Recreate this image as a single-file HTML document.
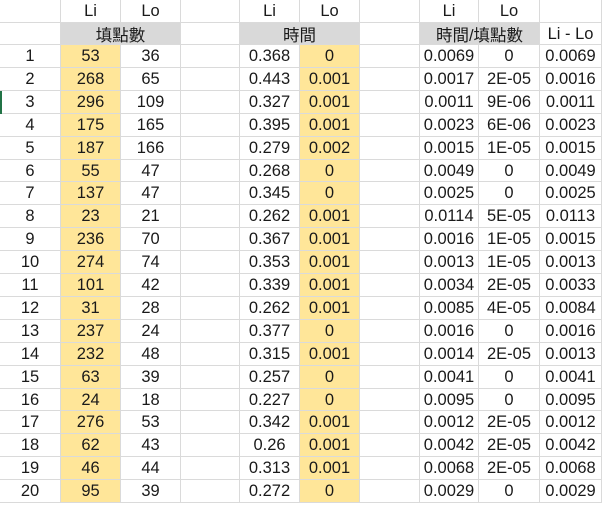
<!DOCTYPE html>
<html><head><meta charset="utf-8">
<style>
html,body{margin:0;padding:0;background:#fff;}
#sheet{position:relative;width:602px;height:511px;overflow:hidden;font-family:"Liberation Sans","Noto Sans CJK TC",sans-serif;font-size:16.5px;color:#1a1a1a;}
.c{position:absolute;box-sizing:border-box;border-right:1px solid #dadada;border-bottom:1px solid #dadada;display:flex;align-items:center;justify-content:center;white-space:nowrap;padding-top:1px;}
.y{background:#ffe699;}
.g{background:#d9d9d9;}
#sel{position:absolute;left:0;top:91px;width:2px;height:23px;background:#217346;}
</style></head><body>
<div id="sheet"></div>
<script>
const rowNums=[1,2,3,4,5,6,7,8,9,10,11,12,13,14,15,16,17,18,19,20];
const fillLi=[53,268,296,175,187,55,137,23,236,274,101,31,237,232,63,24,276,62,46,95];
const fillLo=[36,65,109,165,166,47,47,21,70,74,42,28,24,48,39,18,53,43,44,39];
const timeLi=["0.368","0.443","0.327","0.395","0.279","0.268","0.345","0.262","0.367","0.353","0.339","0.262","0.377","0.315","0.257","0.227","0.342","0.26","0.313","0.272"];
const timeLo=["0","0.001","0.001","0.001","0.002","0","0","0.001","0.001","0.001","0.001","0.001","0","0.001","0","0","0.001","0.001","0.001","0"];
const rateLi=["0.0069","0.0017","0.0011","0.0023","0.0015","0.0049","0.0025","0.0114","0.0016","0.0013","0.0034","0.0085","0.0016","0.0014","0.0041","0.0095","0.0012","0.0042","0.0068","0.0029"];
const rateLo=["0","2E-05","9E-06","6E-06","1E-05","0","0","5E-05","1E-05","1E-05","2E-05","4E-05","0","2E-05","0","0","2E-05","2E-05","2E-05","0"];
const diff=["0.0069","0.0016","0.0011","0.0023","0.0015","0.0049","0.0025","0.0113","0.0015","0.0013","0.0033","0.0084","0.0016","0.0013","0.0041","0.0095","0.0012","0.0042","0.0068","0.0029"];
const colX=[0,61,121,181,240,300,360,420,479,540,602];
const sheet=document.getElementById('sheet');
function cell(col,top,h,text,cls,name){
  const d=document.createElement('div');
  d.className='c '+(cls||'');
  d.style.left=colX[col]+'px';
  d.style.top=top+'px';
  d.style.width=(colX[col+1]-colX[col])+'px';
  d.style.height=h+'px';
  d.textContent=text;
  
  
  sheet.appendChild(d);
  return d;
}
function span(c1,c2,top,h,text,cls,name){
  const d=document.createElement('div');
  d.className='c '+(cls||'');
  d.style.left=colX[c1]+'px';
  d.style.top=top+'px';
  d.style.width=(colX[c2+1]-colX[c1])+'px';
  d.style.height=h+'px';
  d.textContent=text;
  
  
  sheet.appendChild(d);
}
const h1=['','Li','Lo','','Li','Lo','','Li','Lo',''];
h1.forEach((t,i)=>cell(i,0,23,t,'', 'header-cell'));
cell(0,23,22,'','','header2-cell');
span(1,2,23,22,'填點數','g','fill-count-header');
cell(3,23,22,'','','header2-cell');
span(4,5,23,22,'時間','g','time-header');
cell(6,23,22,'','','header2-cell');
span(7,8,23,22,'時間/填點數','g','time-per-fill-header');
cell(9,23,22,'Li - Lo','','diff-header');
const rh=22.9;
rowNums.forEach((n,k)=>{
  const top=Math.round(45+k*rh), h=Math.round(45+(k+1)*rh)-top;
  cell(0,top,h,String(n),'','row-number');
  cell(1,top,h,String(fillLi[k]),'y','fill-li');
  cell(2,top,h,String(fillLo[k]),'','fill-lo');
  cell(3,top,h,'','','empty-cell');
  cell(4,top,h,timeLi[k],'','time-li');
  cell(5,top,h,timeLo[k],'y','time-lo');
  cell(6,top,h,'','','empty-cell');
  cell(7,top,h,rateLi[k],'','rate-li');
  cell(8,top,h,rateLo[k],'','rate-lo');
  cell(9,top,h,diff[k],'','diff-value');
});
const sel=document.createElement('div');
sel.id='sel';


sheet.appendChild(sel);
</script>
</body></html>
